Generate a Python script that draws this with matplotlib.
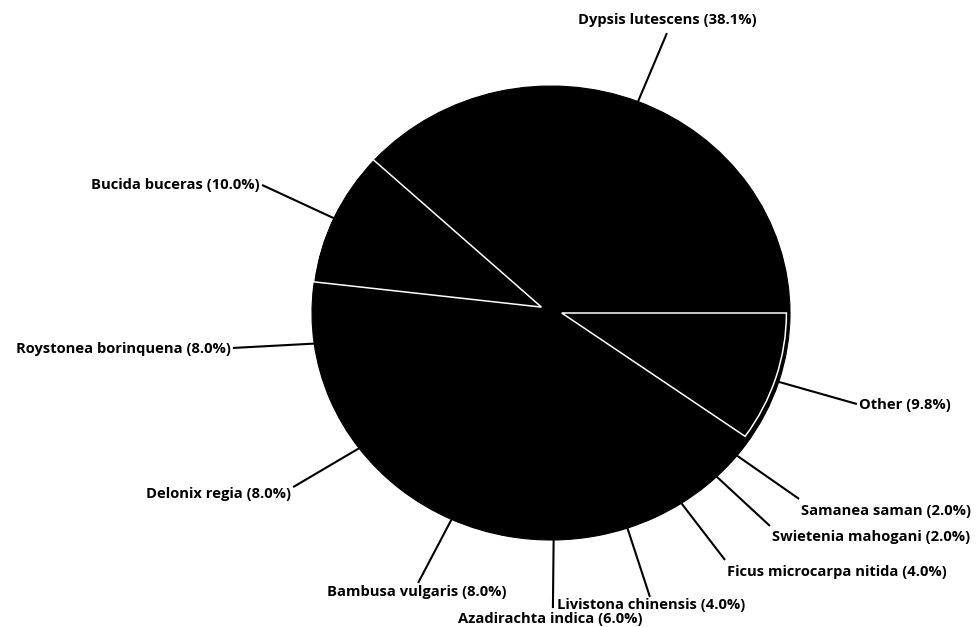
import numpy as np
import matplotlib
matplotlib.use('Agg')
import matplotlib.pyplot as plt
from matplotlib.patches import Wedge

# species shares, in drawing order (clockwise from 3 o'clock)
species = ['Other', 'Samanea saman', 'Swietenia mahogani', 'Ficus microcarpa nitida',
           'Livistona chinensis', 'Azadirachta indica', 'Bambusa vulgaris',
           'Delonix regia', 'Roystonea borinquena', 'Bucida buceras', 'Dypsis lutescens']
shares = [9.8, 2.0, 2.0, 4.0, 4.0, 6.0, 8.0, 8.0, 8.0, 10.0, 38.1]

# where each leader line stops, and where its label sits (pie radius = 1)
line_ends = [(1.280, -0.401), (1.038, -0.819), (0.916, -0.938), (0.728, -1.088),
             (0.414, -1.251), (0.008, -1.300), (-0.556, -1.189), (-1.079, -0.767),
             (-1.331, -0.154), (-1.209, 0.564), (0.485, 1.233)]
text_pos = [(1.289, -0.405), (1.046, -0.872), (0.925, -0.987), (0.736, -1.141),
            (0.418, -1.286), (-0.004, -1.348), (-0.561, -1.229), (-1.088, -0.797),
            (-1.339, -0.159), (-1.218, 0.564), (0.485, 1.291)]
text_ha = ['left', 'left', 'left', 'left', 'center', 'center', 'center',
           'right', 'right', 'right', 'center']

W, H = 977, 627
cx, cy, rx, ry = 551, 313, 239, 227

fig = plt.figure(figsize=(W / 100, H / 100), dpi=100)
ax = fig.add_axes([0, 0, 1, 1])

wedges, _ = ax.pie(shares, startangle=0, counterclock=False, radius=1,
                   colors=['black'] * len(shares),
                   wedgeprops=dict(linewidth=0.8, edgecolor='black'))
ax.set_aspect('auto')
ax.set_xlim(-cx / rx, (W - cx) / rx)
ax.set_ylim((cy - H) / ry, cy / ry)
ax.axis('off')

# thin white outlines around two of the slices
for name, off, r in [('Other', (0.045, 0.0), 0.94), ('Bucida buceras', (-0.04, 0.026), 0.96)]:
    w = wedges[species.index(name)]
    ax.add_patch(Wedge(off, r, w.theta1, w.theta2, fill=False,
                       edgecolor='white', linewidth=1.1))

for w, name, pct, end, tp, ha in zip(wedges, species, shares, line_ends, text_pos, text_ha):
    mid = np.deg2rad((w.theta1 + w.theta2) / 2)
    ax.plot([np.cos(mid), end[0]], [np.sin(mid), end[1]], color='black', lw=1.5,
            solid_capstyle='butt')
    ax.text(tp[0], tp[1], f'{name} ({pct:.1f}%)', ha=ha, va='center',
            fontsize=10.6, fontweight='bold', family='Open Sans')

fig.savefig('out.png', dpi=100, facecolor='white')
